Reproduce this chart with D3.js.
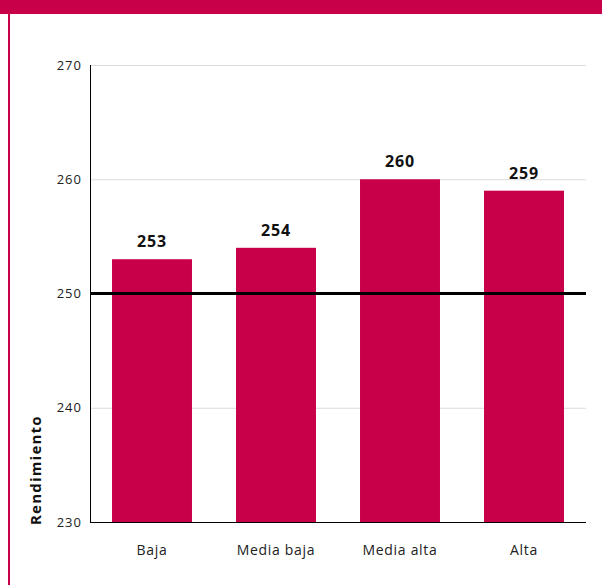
<!DOCTYPE html>
<html>
<head>
<meta charset="utf-8">
<script src="https://cdn.jsdelivr.net/npm/d3@7"></script>
<style>
  body { margin: 0; background: #fff; }
  svg text { font-family: "Open Sans", sans-serif; }
</style>
</head>
<body>
<div id="chart"></div>
<script>
let categories = ["Baja", "Media baja", "Media alta", "Alta"];
let values = [253, 254, 260, 259];
let yTicks = [230, 240, 250, 260, 270];
let referenceValue = 250;
let axisTitle = "Rendimiento";

let width = 602, height = 585;
let margin = { top: 65, right: 16, bottom: 63, left: 90 };
let crimson = "#c8004a";

let svg = d3.select("#chart").append("svg")
    .attr("width", width)
    .attr("height", height);

// header band and left rule
svg.append("rect")
    .attr("x", 0).attr("y", 0)
    .attr("width", width).attr("height", 14)
    .style("fill", crimson);
svg.append("rect")
    .attr("x", 8).attr("y", 14)
    .attr("width", 2).attr("height", height - 14)
    .style("fill", crimson);

let x = d3.scaleBand()
    .domain(categories)
    .range([margin.left, width - margin.right])
    .paddingInner(0.355)
    .paddingOuter(0.1775);

let y = d3.scaleLinear()
    .domain([230, 270])
    .range([height - margin.bottom, margin.top]);

// gridlines
svg.selectAll()
    .data(yTicks.filter(d => d != 230))
    .enter()
    .append("line")
    .attr("x1", margin.left)
    .attr("x2", width - margin.right)
    .attr("y1", d => y(d) + 0.5)
    .attr("y2", d => y(d) + 0.5)
    .style("stroke", "#dcdcdc")
    .style("stroke-width", 1);

// tick labels
svg.selectAll()
    .data(yTicks)
    .enter()
    .append("text")
    .attr("x", margin.left - 8)
    .attr("y", d => y(d))
    .attr("dy", "0.35em")
    .attr("text-anchor", "end")
    .attr("font-size", "13px")
    .attr("letter-spacing", "1px")
    .style("fill", "#222")
    .text(d => d);

// bars
svg.selectAll()
    .data(values)
    .enter()
    .append("rect")
    .attr("x", (d, i) => x(categories[i]))
    .attr("y", d => y(d))
    .attr("width", x.bandwidth())
    .attr("height", d => y(230) - y(d))
    .style("fill", crimson);

// reference line
svg.append("line")
    .attr("x1", margin.left)
    .attr("x2", width - margin.right)
    .attr("y1", y(referenceValue))
    .attr("y2", y(referenceValue))
    .style("stroke", "#000")
    .style("stroke-width", 3);

// value labels
svg.selectAll()
    .data(values)
    .enter()
    .append("text")
    .attr("x", (d, i) => x(categories[i]) + x.bandwidth() / 2)
    .attr("y", d => y(d) - 12)
    .attr("text-anchor", "middle")
    .attr("font-size", "16px")
    .attr("font-weight", "bold")
    .attr("letter-spacing", "0.8px")
    .style("fill", "#111")
    .text(d => d);

// axes lines
svg.append("line")
    .attr("x1", margin.left + 0.5).attr("x2", margin.left + 0.5)
    .attr("y1", margin.top).attr("y2", y(230) + 0.5)
    .style("stroke", "#000");
svg.append("line")
    .attr("x1", margin.left).attr("x2", width - margin.right)
    .attr("y1", y(230) + 0.5).attr("y2", y(230) + 0.5)
    .style("stroke", "#000");

// category labels
svg.selectAll()
    .data(categories)
    .enter()
    .append("text")
    .attr("x", d => x(d) + x.bandwidth() / 2)
    .attr("y", 550)
    .attr("dy", "0.35em")
    .attr("text-anchor", "middle")
    .attr("font-size", "14px")
    .attr("letter-spacing", "0.7px")
    .style("fill", "#222")
    .text(d => d);

// axis title
svg.append("text")
    .attr("transform", "translate(41," + (y(230) + 3) + ") rotate(-90)")
    .attr("text-anchor", "start")
    .attr("font-size", "15px")
    .attr("font-weight", "bold")
    .attr("letter-spacing", "1.2px")
    .style("fill", "#111")
    .text(axisTitle);
</script>
</body>
</html>
